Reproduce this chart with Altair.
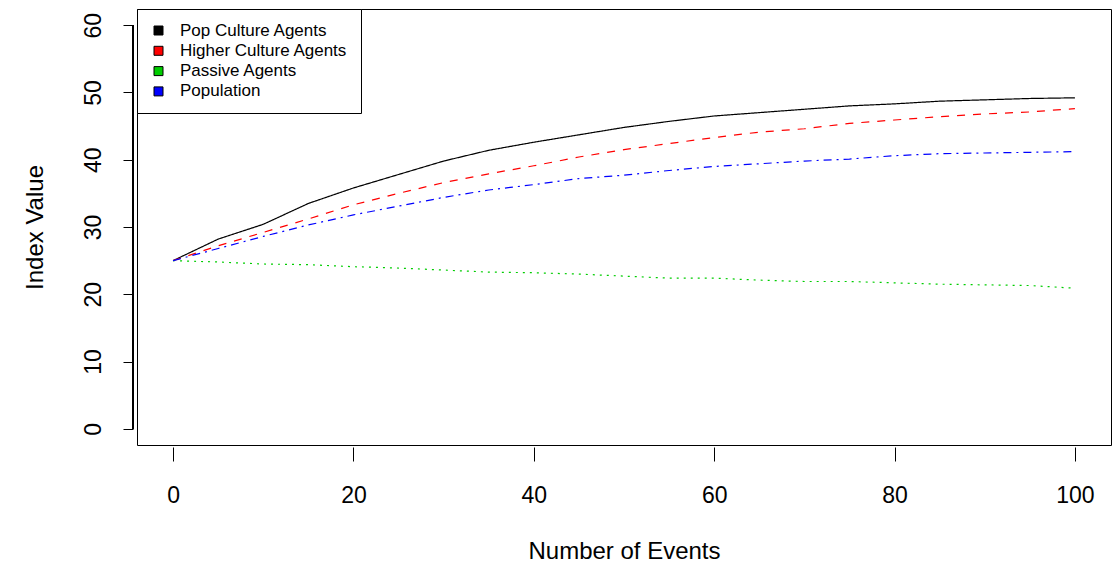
import altair as alt
import pandas as pd

events = [0, 5, 10, 15, 20, 25, 30, 35, 40, 45, 50, 55, 60, 65, 70, 75, 80, 85, 90, 95, 100]
pop_culture = [25.0, 28.2, 30.4, 33.5, 35.8, 37.8, 39.8, 41.4, 42.6, 43.7, 44.8, 45.7, 46.5, 47.0, 47.5, 48.0, 48.3, 48.7, 48.9, 49.1, 49.2]
higher_culture = [25.0, 27.2, 29.2, 31.2, 33.3, 35.0, 36.6, 37.9, 39.1, 40.4, 41.5, 42.4, 43.3, 44.1, 44.6, 45.4, 45.9, 46.4, 46.8, 47.1, 47.6]
passive = [25.0, 24.8, 24.5, 24.4, 24.1, 23.9, 23.6, 23.3, 23.2, 23.0, 22.7, 22.4, 22.4, 22.1, 21.9, 21.9, 21.7, 21.5, 21.4, 21.3, 20.9]
population = [25.0, 26.8, 28.6, 30.3, 31.8, 33.1, 34.4, 35.5, 36.3, 37.2, 37.7, 38.4, 39.0, 39.4, 39.8, 40.1, 40.6, 40.9, 41.0, 41.1, 41.2]

series_names = ["Pop Culture Agents", "Higher Culture Agents", "Passive Agents", "Population"]
series_colors = ["#000000", "#FF0000", "#00CD00", "#0000FF"]
series_dashes = [[1, 0], [8, 8], [2, 5], [8, 5, 2, 5]]
x_ticks = [0, 20, 40, 60, 80, 100]
y_ticks = [0, 10, 20, 30, 40, 50, 60]

rows = []
for name, vals in zip(series_names, [pop_culture, higher_culture, passive, population]):
    for e, v in zip(events, vals):
        rows.append({"events": e, "value": v, "series": name})
df = pd.DataFrame(rows)

legend_df = pd.DataFrame({"key": series_names, "events": [-1000] * 4, "value": [0] * 4})

FONT = "Liberation Sans"
W, H = 974, 436

xscale = alt.Scale(domain=[-4, 104], nice=False, zero=False)
yscale = alt.Scale(domain=[-2.4, 62.4], nice=False, zero=False)

x_axis = alt.Axis(values=x_ticks, offset=2, tickSize=14, tickColor="black", tickWidth=1,
                  domain=False, grid=False, labelFont=FONT, labelFontSize=23, labelColor="black",
                  labelBaseline="alphabetic", labelPadding=41, labelFlush=False,
                  title="Number of Events", titleFont=FONT, titleFontSize=24,
                  titleFontWeight="normal", titleColor="black", titleBaseline="alphabetic",
                  titleAlign="center", titleX=W / 2, titleY=111)
y_axis = alt.Axis(values=y_ticks, offset=4, tickSize=10, tickColor="black", tickWidth=1,
                  domain=False, grid=False, labelFont=FONT, labelFontSize=23, labelColor="black",
                  labelAngle=270, labelAlign="center", labelBaseline="alphabetic", labelPadding=23,
                  labelFlush=False,
                  title="Index Value", titleFont=FONT, titleFontSize=24, titleFontWeight="normal",
                  titleColor="black", titleAngle=270, titleBaseline="alphabetic", titleAlign="center",
                  titleX=-91, titleY=H / 2)

lines = alt.Chart(df).mark_line(strokeWidth=1.2).encode(
    x=alt.X("events:Q", scale=xscale, axis=x_axis),
    y=alt.Y("value:Q", scale=yscale, axis=y_axis),
    stroke=alt.Stroke("series:N", scale=alt.Scale(domain=series_names, range=series_colors), legend=None),
    strokeDash=alt.StrokeDash("series:N", scale=alt.Scale(domain=series_names, range=series_dashes), legend=None),
)

y_line = alt.Chart(df).mark_rule(color="black", strokeWidth=1).encode(
    x=alt.value(-4),
    y=alt.datum(0),
    y2=alt.datum(60),
)

legend_layer = alt.Chart(legend_df).transform_filter("datum.events > 0").mark_square(
    size=81, filled=True, stroke="black", strokeWidth=1, opacity=1
).encode(
    x=alt.X("events:Q", scale=xscale),
    y=alt.Y("value:Q", scale=yscale),
    fill=alt.Fill("key:N", scale=alt.Scale(domain=series_names, range=series_colors),
                  legend=alt.Legend(title=None, orient="none", legendX=0, legendY=0,
                                    symbolType="square", symbolSize=81, symbolStrokeColor="black",
                                    symbolStrokeWidth=1, symbolOpacity=1,
                                    labelFont=FONT, labelFontSize=17, labelColor="black",
                                    labelLimit=400, labelOffset=13, rowPadding=2.3, padding=13,
                                    strokeColor="black", fillColor="white", cornerRadius=0)),
)

chart = alt.layer(y_line, lines, legend_layer).resolve_scale(
    fill="independent", stroke="independent"
).properties(
    width=W, height=H,
    autosize=alt.AutoSizeParams(type="none"),
    padding={"left": 129, "top": 1, "right": 1, "bottom": 117},
    background="white",
).configure_view(stroke="black", strokeWidth=1)

chart.save("out.html", embed_options={"renderer": "svg", "actions": False})
